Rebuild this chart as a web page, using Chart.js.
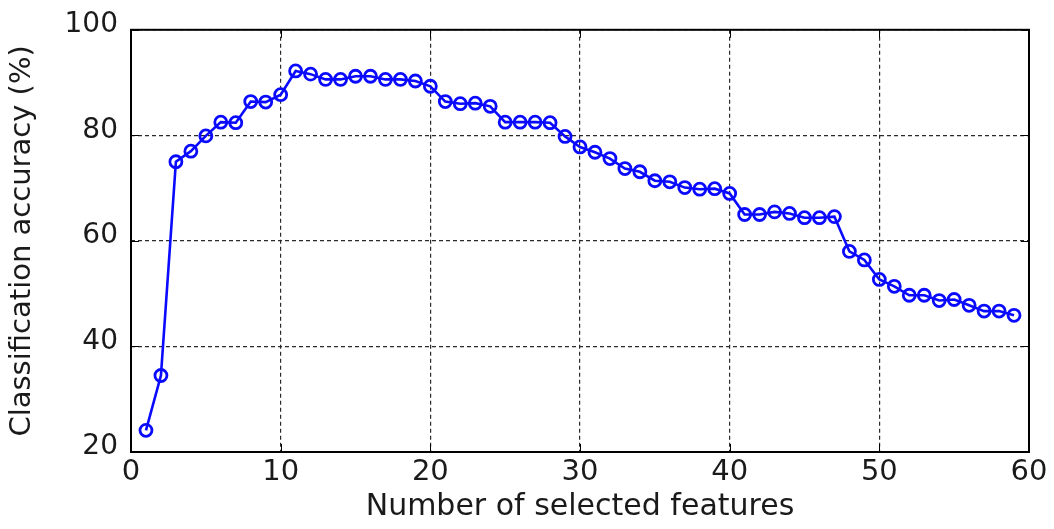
<!DOCTYPE html>
<html>
<head>
<meta charset="utf-8">
<script src="https://cdn.jsdelivr.net/npm/chart.js@4/dist/chart.umd.min.js"></script>
<style>
  html, body { margin: 0; padding: 0; background: #ffffff; }
  #wrap { width: 1054px; height: 529px; }
</style>
</head>
<body>
<div id="wrap"><canvas id="chart" width="1054" height="529"></canvas></div>
<script>
// Number of selected features (x) and resulting classification accuracy in % (y)
const features = [
  1, 2, 3, 4, 5, 6, 7, 8, 9, 10,
  11, 12, 13, 14, 15, 16, 17, 18, 19, 20,
  21, 22, 23, 24, 25, 26, 27, 28, 29, 30,
  31, 32, 33, 34, 35, 36, 37, 38, 39, 40,
  41, 42, 43, 44, 45, 46, 47, 48, 49, 50,
  51, 52, 53, 54, 55, 56, 57, 58, 59
];
const accuracy = [
  24.1, 34.5, 75.0, 77.0, 79.9, 82.5, 82.4, 86.4, 86.3, 87.7,
  92.2, 91.6, 90.6, 90.6, 91.2, 91.2, 90.6, 90.6, 90.3, 89.3,
  86.4, 86.0, 86.1, 85.5, 82.5, 82.5, 82.5, 82.4, 79.8, 77.8,
  76.8, 75.6, 73.7, 73.1, 71.4, 71.2, 70.1, 69.8, 69.9, 69.0,
  65.0, 65.0, 65.5, 65.2, 64.4, 64.4, 64.6, 58.0, 56.4, 52.7,
  51.4, 49.7, 49.7, 48.7, 48.9, 47.8, 46.7, 46.7, 45.9
];
const xTicks = [0, 10, 20, 30, 40, 50, 60];
const yTicks = [20, 40, 60, 80, 100];

const xLabel = 'Number of selected features';
const yLabel = 'Classification accuracy (%)';

const points = features.map((f, i) => ({ x: f, y: accuracy[i] }));

const FONT = "'DejaVu Sans', 'Liberation Sans', Arial, sans-serif";
const TEXT = '#1a1a1a';

// Solid frame around the plot area plus short inward tick marks on all four sides
const framePlugin = {
  id: 'frame',
  afterDatasetsDraw(chart) {
    const { ctx, chartArea: a, scales } = chart;
    const len = 8;
    ctx.save();
    ctx.strokeStyle = '#000000';
    ctx.lineWidth = 1;
    ctx.beginPath();
    xTicks.forEach(v => {
      const px = Math.round(scales.x.getPixelForValue(v)) + 0.5;
      ctx.moveTo(px, a.bottom); ctx.lineTo(px, a.bottom - len);
      ctx.moveTo(px, a.top); ctx.lineTo(px, a.top + len);
    });
    yTicks.forEach(v => {
      const py = Math.round(scales.y.getPixelForValue(v)) + 0.5;
      ctx.moveTo(a.left, py); ctx.lineTo(a.left + len, py);
      ctx.moveTo(a.right, py); ctx.lineTo(a.right - len, py);
    });
    ctx.stroke();
    ctx.lineWidth = 2;
    ctx.strokeRect(a.left, a.top, a.right - a.left, a.bottom - a.top);
    ctx.restore();
  }
};

new Chart(document.getElementById('chart'), {
  type: 'line',
  data: {
    datasets: [{
      data: points,
      borderColor: '#0a0aff',
      borderWidth: 2.6,
      pointRadius: 6,
      pointHoverRadius: 6,
      pointBorderWidth: 2.8,
      pointBorderColor: '#0a0aff',
      pointBackgroundColor: 'rgba(0,0,0,0)',
      tension: 0,
      fill: false,
      clip: false
    }]
  },
  options: {
    responsive: false,
    animation: false,
    devicePixelRatio: 1,
    layout: { padding: { top: 27, right: 25, left: 0, bottom: 0 } },
    plugins: {
      legend: { display: false },
      tooltip: { enabled: false }
    },
    scales: {
      x: {
        type: 'linear',
        min: 0,
        max: 60,
        afterFit(scale) { scale.height = 77; },
        afterBuildTicks(scale) { scale.ticks = xTicks.map(v => ({ value: v })); },
        grid: {
          color: '#2a2a2a',
          lineWidth: 1.2,
          drawTicks: false
        },
        border: { display: false, dash: [4, 3] },
        ticks: {
          padding: 3,
          color: TEXT,
          font: { family: FONT, size: 29 },
          maxRotation: 0,
          autoSkip: false
        },
        title: {
          display: true,
          text: xLabel,
          color: TEXT,
          font: { family: FONT, size: 30 },
          padding: { top: 0, bottom: 4 }
        }
      },
      y: {
        type: 'linear',
        min: 20,
        max: 100,
        afterFit(scale) { scale.width = 131; },
        afterBuildTicks(scale) { scale.ticks = yTicks.map(v => ({ value: v })); },
        grid: {
          color: '#2a2a2a',
          lineWidth: 1.2,
          drawTicks: false
        },
        border: { display: false, dash: [4, 3] },
        ticks: {
          padding: 13,
          labelOffset: -5,
          color: TEXT,
          font: { family: FONT, size: 28 }
        },
        title: {
          display: true,
          text: yLabel,
          color: TEXT,
          font: { family: FONT, size: 29 },
          padding: { top: 5, bottom: 0 }
        }
      }
    }
  },
  plugins: [framePlugin]
});
</script>
</body>
</html>
